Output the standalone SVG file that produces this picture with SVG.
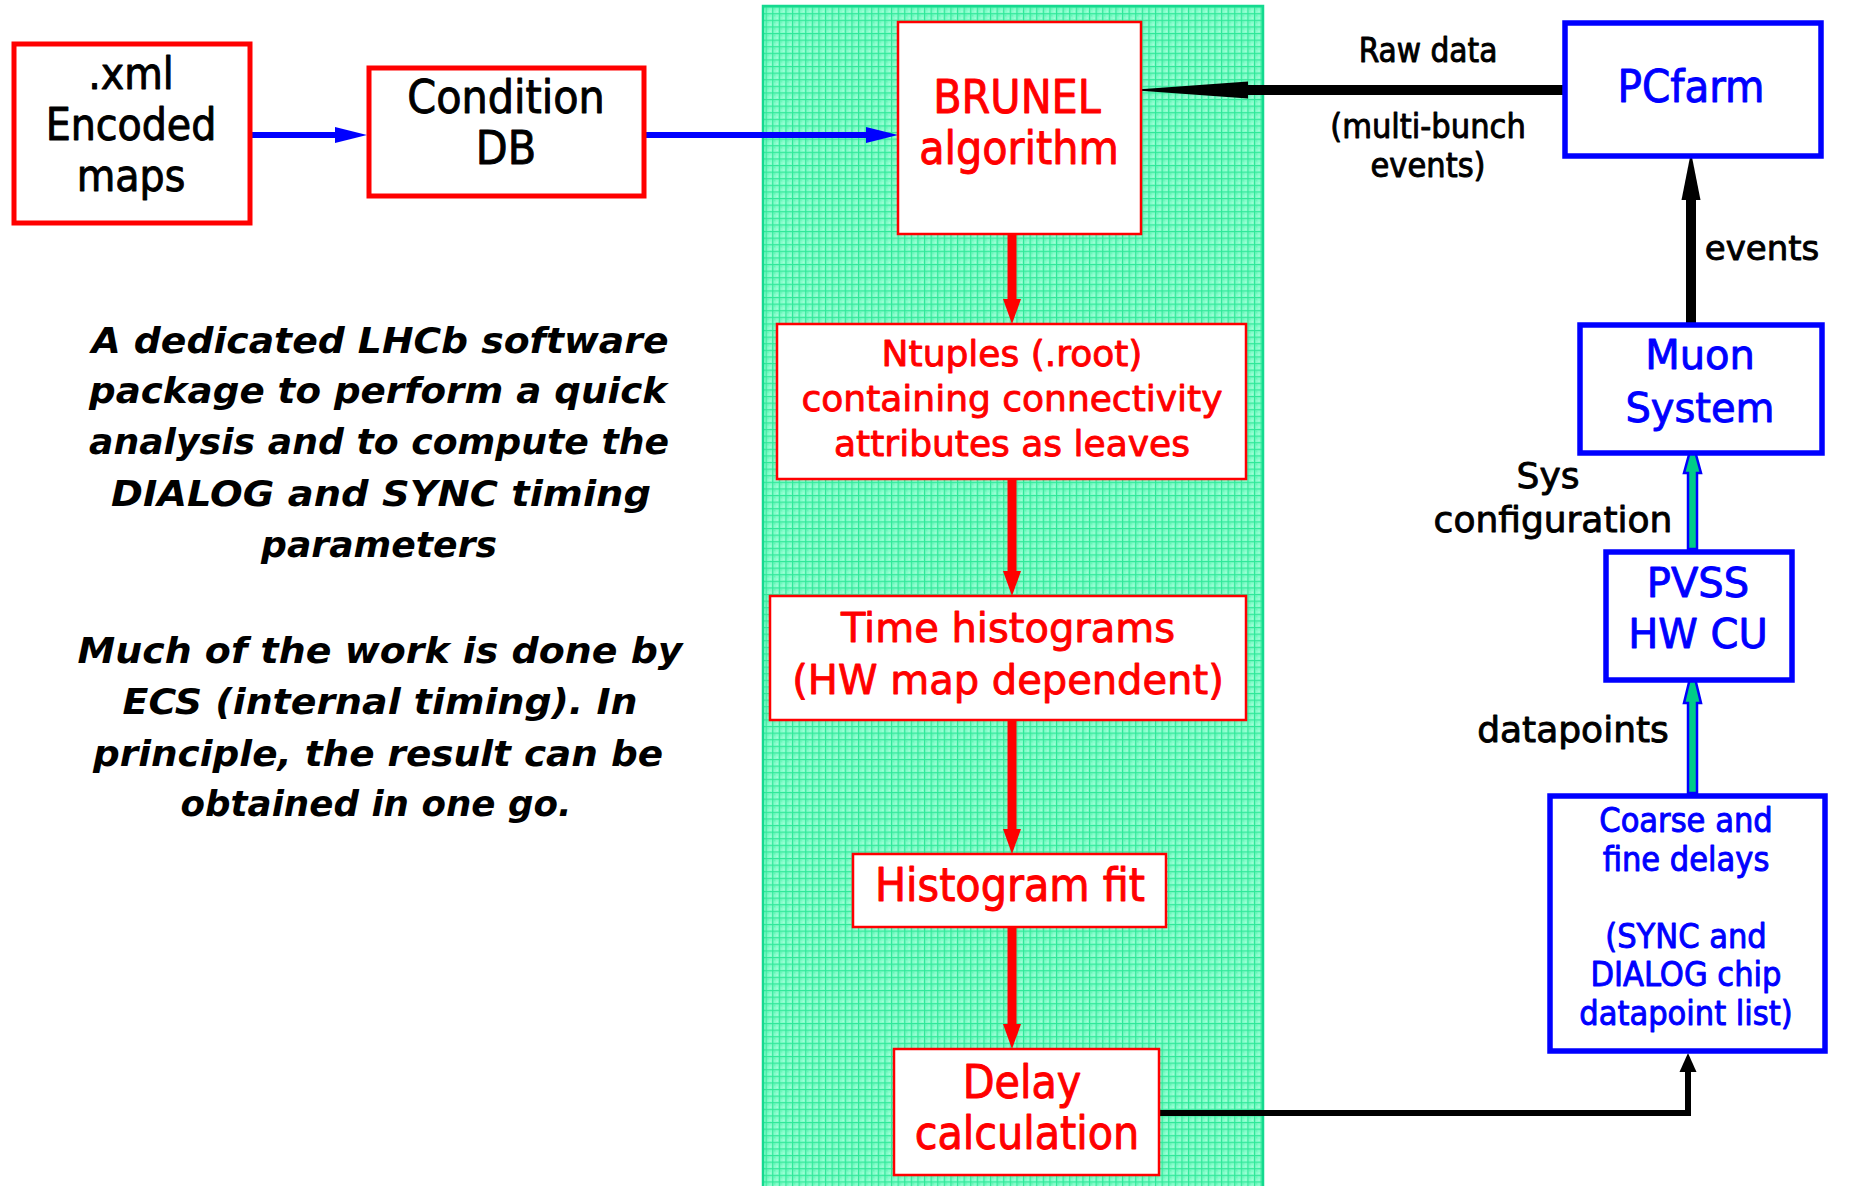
<svg xmlns="http://www.w3.org/2000/svg" width="1870" height="1186" viewBox="0 0 1870 1186">
  <defs>
    <pattern id="grid" width="6.6" height="6.6" patternUnits="userSpaceOnUse">
      <rect width="6.6" height="6.6" fill="#86fccb"/>
      <rect x="1.6" y="1.6" width="1.7" height="1.7" fill="#63f6b6"/>
      <rect x="4.2" y="4.2" width="1.5" height="1.5" fill="#a8ffda"/>
      <path d="M0 0.6H6.6M0.6 0V6.6" stroke="#2fe899" stroke-width="1.2"/>
    </pattern>
  </defs>
  <style>
    .bg { fill: #ffffff; }
    .panel { fill: url(#grid); stroke: #14d98f; stroke-width: 2.5; }
    .redThick { fill: #ffffff; stroke: #ff0000; stroke-width: 5; }
    .redThin { fill: #ffffff; stroke: #ff0000; stroke-width: 2.5; }
    .blueBox { fill: #ffffff; stroke: #0000ff; stroke-width: 5.5; }
    text { text-anchor: middle; stroke-width: 0.9; stroke-linejoin: round; }
    .cond { font-family: "DejaVu Sans Condensed", "DejaVu Sans", sans-serif; }
    .reg { font-family: "DejaVu Sans", "Liberation Sans", sans-serif; }
    .k { fill: #000000; stroke: #000000; }
    .r { fill: #ff0000; stroke: #ff0000; }
    .b { fill: #0000ff; stroke: #0000ff; }
    .note { font-family: "DejaVu Sans", "Liberation Sans", sans-serif; font-weight: bold; font-style: oblique; font-size: 36px; fill: #000000; stroke: none; }
  </style>

  <rect class="bg" width="1870" height="1186"/>

  <!-- analysis panel -->
  <rect id="analysis-panel" class="panel" x="763" y="6" width="500" height="1190"/>

  <!-- connectors -->
  <g id="connectors">
    <!-- blue: xml maps -> condition DB -> BRUNEL -->
    <g fill="#0000ff">
      <rect x="252" y="132" width="84" height="6"/>
      <polygon points="367,135 335,127 335,143"/>
      <rect x="646" y="132" width="222" height="6"/>
      <polygon points="898,135 866,127 866,143"/>
    </g>
    <!-- red: analysis chain -->
    <g fill="#ff0000">
      <rect x="1007.5" y="235" width="9" height="66"/>
      <polygon points="1012,324 1003,299 1021,299"/>
      <rect x="1007.5" y="480" width="9" height="94"/>
      <polygon points="1012,596 1003,571 1021,571"/>
      <rect x="1007.5" y="721" width="9" height="111"/>
      <polygon points="1012,854 1003,829 1021,829"/>
      <rect x="1007.5" y="928" width="9" height="99"/>
      <polygon points="1012,1049 1003,1024 1021,1024"/>
    </g>
    <!-- black: raw data, events, delays -->
    <g fill="#000000">
      <rect x="1246" y="85" width="317" height="10"/>
      <polygon points="1130,90 1248,81.5 1248,98.5"/>
      <rect x="1686" y="198" width="10" height="125"/>
      <polygon points="1691,152 1681.5,200 1700.5,200"/>
      <path d="M1159 1113H1688V1070" fill="none" stroke="#000000" stroke-width="6"/>
      <polygon points="1688,1053 1679.5,1072 1696.5,1072"/>
    </g>
    <!-- outlined: datapoints and configuration -->
    <g fill="#00cc88" stroke="#0000ff" stroke-width="2.5" stroke-linejoin="miter">
      <polygon points="1692.5,442 1701,473 1697,473 1697,549 1688,549 1688,473 1684,473"/>
      <polygon points="1692.5,668 1701,703 1697,703 1697,793 1688,793 1688,703 1684,703"/>
    </g>
  </g>

  <!-- connector labels -->
  <g id="labels">
    <text class="cond k" x="1428" y="62" font-size="33">Raw data</text>
    <text class="cond k" x="1428" y="138" font-size="34">(multi-bunch</text>
    <text class="cond k" x="1428" y="177" font-size="34">events)</text>
    <text class="reg k" x="1762" y="260" font-size="34">events</text>
    <text class="reg k" x="1548" y="488" font-size="36">Sys</text>
    <text class="reg k" x="1553" y="532" font-size="36">configuration</text>
    <text class="reg k" x="1573" y="742" font-size="36">datapoints</text>
  </g>

  <!-- nodes -->
  <g id="xml-maps">
    <rect class="redThick" x="14" y="44" width="236" height="179"/>
    <text class="cond k" x="131" y="89" font-size="44">.xml</text>
    <text class="cond k" x="131" y="140" font-size="44">Encoded</text>
    <text class="cond k" x="131" y="191" font-size="44">maps</text>
  </g>

  <g id="condition-db">
    <rect class="redThick" x="369" y="68" width="275" height="128"/>
    <text class="cond k" x="506" y="113" font-size="46">Condition</text>
    <text class="cond k" x="506" y="164" font-size="46">DB</text>
  </g>

  <g id="brunel">
    <rect class="redThin" x="898" y="22" width="243" height="212"/>
    <text class="cond r" x="1017" y="113" font-size="46">BRUNEL</text>
    <text class="cond r" x="1019" y="164" font-size="46">algorithm</text>
  </g>

  <g id="ntuples">
    <rect class="redThin" x="777" y="324" width="469" height="155"/>
    <text class="reg r" x="1012" y="366" font-size="36">Ntuples (.root)</text>
    <text class="reg r" x="1012" y="411" font-size="36">containing connectivity</text>
    <text class="reg r" x="1012" y="456" font-size="36">attributes as leaves</text>
  </g>

  <g id="time-histograms">
    <rect class="redThin" x="770" y="596" width="476" height="124"/>
    <text class="reg r" x="1008" y="642" font-size="40">Time histograms</text>
    <text class="reg r" x="1008" y="694" font-size="40">(HW map dependent)</text>
  </g>

  <g id="histogram-fit">
    <rect class="redThin" x="853" y="854" width="313" height="73"/>
    <text class="cond r" x="1010" y="901" font-size="46">Histogram fit</text>
  </g>

  <g id="delay-calculation">
    <rect class="redThin" x="894" y="1049" width="265" height="126"/>
    <text class="cond r" x="1022" y="1098" font-size="46">Delay</text>
    <text class="cond r" x="1027" y="1149" font-size="46">calculation</text>
  </g>

  <g id="pcfarm">
    <rect class="blueBox" x="1565" y="23" width="256" height="133"/>
    <text class="cond b" x="1691" y="102" font-size="45">PCfarm</text>
  </g>

  <g id="muon-system">
    <rect class="blueBox" x="1580" y="325" width="242" height="128"/>
    <text class="reg b" x="1700" y="369" font-size="40">Muon</text>
    <text class="reg b" x="1700" y="422" font-size="40">System</text>
  </g>

  <g id="pvss-hw-cu">
    <rect class="blueBox" x="1606" y="552" width="186" height="128"/>
    <text class="reg b" x="1698" y="597" font-size="40">PVSS</text>
    <text class="reg b" x="1698" y="648" font-size="40">HW CU</text>
  </g>

  <g id="delays">
    <rect class="blueBox" x="1550" y="796" width="275" height="255"/>
    <text class="cond b" x="1686" y="832" font-size="34">Coarse and</text>
    <text class="cond b" x="1686" y="871" font-size="34">fine delays</text>
    <text class="cond b" x="1686" y="948" font-size="34">(SYNC and</text>
    <text class="cond b" x="1686" y="986" font-size="34">DIALOG chip</text>
    <text class="cond b" x="1686" y="1025" font-size="34">datapoint list)</text>
  </g>

  <!-- description -->
  <g id="description">
    <text class="note" x="380" y="353" textLength="577" lengthAdjust="spacingAndGlyphs">A dedicated LHCb software</text>
    <text class="note" x="378" y="403" textLength="578" lengthAdjust="spacingAndGlyphs">package to perform a quick</text>
    <text class="note" x="379" y="454" textLength="580" lengthAdjust="spacingAndGlyphs">analysis and to compute the</text>
    <text class="note" x="381" y="506" textLength="540" lengthAdjust="spacingAndGlyphs">DIALOG and SYNC timing</text>
    <text class="note" x="379" y="557" textLength="236" lengthAdjust="spacingAndGlyphs">parameters</text>
    <text class="note" x="380" y="663" textLength="605" lengthAdjust="spacingAndGlyphs">Much of the work is done by</text>
    <text class="note" x="380" y="714" textLength="515" lengthAdjust="spacingAndGlyphs">ECS (internal timing). In</text>
    <text class="note" x="378" y="766" textLength="570" lengthAdjust="spacingAndGlyphs">principle, the result can be</text>
    <text class="note" x="376" y="816" textLength="391" lengthAdjust="spacingAndGlyphs">obtained in one go.</text>
  </g>
</svg>
